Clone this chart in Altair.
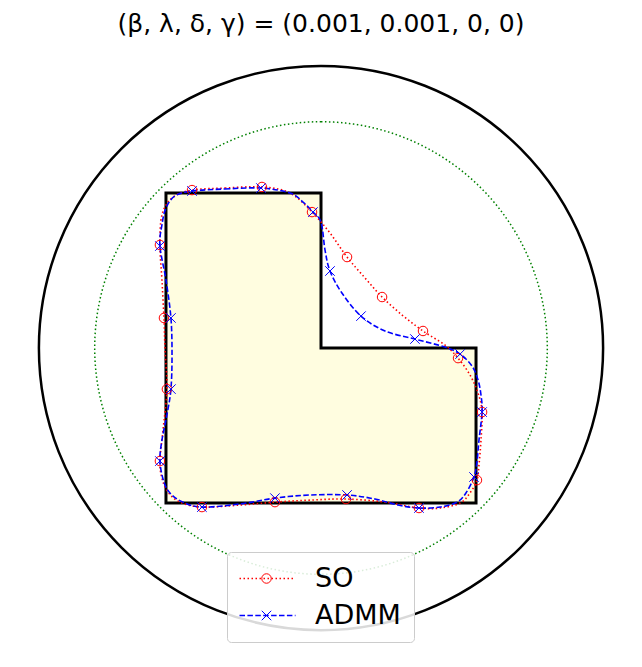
import altair as alt
import pandas as pd

# ---------------- data ----------------
title_text = "(β, λ, δ, γ) = (0.001, 0.001, 0, 0)"
series_names = ["SO", "ADMM"]
series_colors = ["red", "blue"]

# circles (center x, center y, radius)
outer_circle = {"cx": [0.0], "cy": [0.0], "r": [1.82]}
inner_circle = {"cx": [0.0], "cy": [0.0], "r": [1.46]}

# L-shaped domain
poly_x = [-1.0, 0.0, 0.0, 1.0, 1.0, -1.0]
poly_y = [1.0, 1.0, 0.0, 0.0, -1.0, -1.0]
fill_x = [-1.0, 0.0, 1.0]
fill_top = [1.0, 0.0, 0.0]
fill_bottom = [-1.0, -1.0, -1.0]

# SO curve (closed)
so_x = [-0.832, -0.619, -0.381, -0.200, -0.058, 0.058, 0.168, 0.284, 0.394, 0.523,
        0.658, 0.800, 0.884, 0.961, 1.013, 1.039, 1.032, 1.019, 1.006, 0.961,
        0.897, 0.768, 0.632, 0.413, 0.161, -0.071, -0.297, -0.523, -0.768, -0.910,
        -0.987, -1.026, -1.039, -1.019, -0.994, -1.006, -1.013, -1.026, -1.039, -1.026,
        -0.961]
so_y = [1.019, 1.032, 1.039, 1.000, 0.877, 0.742, 0.587, 0.452, 0.329, 0.213,
        0.110, 0.019, -0.065, -0.174, -0.290, -0.413, -0.594, -0.755, -0.852, -0.935,
        -1.000, -1.032, -1.032, -0.994, -0.974, -0.981, -0.994, -1.013, -1.026, -0.994,
        -0.929, -0.839, -0.729, -0.529, -0.265, -0.013, 0.194, 0.439, 0.665, 0.858,
        0.968]
so_marks = [0, 2, 4, 6, 8, 10, 12, 15, 18, 22, 24, 26, 28, 32, 34, 36, 38]

# ADMM curve (closed)
admm_x = [-0.832, -0.619, -0.387, -0.200, -0.116, -0.052, 0.000, 0.026, 0.058, 0.135,
          0.258, 0.413, 0.606, 0.800, 0.897, 0.974, 1.013, 1.032, 1.039, 1.019,
          1.006, 0.987, 0.935, 0.877, 0.768, 0.632, 0.497, 0.348, 0.168, -0.071,
          -0.297, -0.523, -0.768, -0.890, -0.968, -1.013, -1.039, -1.026, -0.994, -0.968,
          -0.961, -0.968, -1.000, -1.039, -1.026, -1.000, -0.942]
admm_y = [1.013, 1.026, 1.032, 1.000, 0.942, 0.877, 0.813, 0.632, 0.497, 0.355,
          0.206, 0.110, 0.058, 0.006, -0.039, -0.116, -0.206, -0.303, -0.413, -0.594,
          -0.735, -0.832, -0.935, -0.994, -1.026, -1.032, -1.013, -0.974, -0.948, -0.948,
          -0.968, -1.006, -1.026, -0.994, -0.942, -0.865, -0.729, -0.594, -0.432, -0.265,
          -0.045, 0.194, 0.439, 0.658, 0.794, 0.903, 0.981]
admm_marks = [0, 2, 5, 8, 10, 12, 14, 18, 21, 25, 28, 30, 32, 36, 39, 41, 43]

# ---------------- tables ----------------
curves = pd.concat([
    pd.DataFrame({"i": range(len(so_x)), "x": so_x, "y": so_y, "series": "SO"}),
    pd.DataFrame({"i": range(len(admm_x)), "x": admm_x, "y": admm_y, "series": "ADMM"}),
], ignore_index=True)

markers = pd.concat([
    pd.DataFrame({"x": [so_x[k] for k in so_marks], "y": [so_y[k] for k in so_marks], "method": "SO"}),
    pd.DataFrame({"x": [admm_x[k] for k in admm_marks], "y": [admm_y[k] for k in admm_marks], "method": "ADMM"}),
], ignore_index=True)

poly = pd.DataFrame({"i": range(len(poly_x)), "x": poly_x, "y": poly_y})
fill = pd.DataFrame({"x": fill_x, "top": fill_top, "bottom": fill_bottom})

xs = alt.Scale(domain=[-2.019, 2.019], nice=False, zero=False)
ys = alt.Scale(domain=[-2.006, 1.871], nice=False, zero=False)
rs = alt.Scale(type="linear", domain=[0, 1], range=[0, 155], zero=True)

def circle_layer(d, color, width, dash=None):
    kw = dict(filled=False, stroke=color, strokeWidth=width, theta=0, theta2=6.2832)
    if dash is not None:
        kw["strokeDash"] = dash
    return alt.Chart(pd.DataFrame(d)).mark_arc(**kw).encode(
        x=alt.X("cx:Q", scale=xs, axis=None),
        y=alt.Y("cy:Q", scale=ys, axis=None),
        radius=alt.Radius("r:Q", scale=rs),
    )

big = circle_layer(outer_circle, "black", 2.5)
green = circle_layer(inner_circle, "green", 1.5, [1.5, 2.5])

area = alt.Chart(fill).mark_area(interpolate="step-after", color="#fffde0").encode(
    x=alt.X("x:Q", scale=xs, axis=None),
    y=alt.Y("top:Q", scale=ys, axis=None),
    y2="bottom:Q",
)

outline = alt.Chart(poly).mark_line(interpolate="linear-closed", color="black", strokeWidth=3).encode(
    x=alt.X("x:Q", scale=xs, axis=None),
    y=alt.Y("y:Q", scale=ys, axis=None),
    order="i:Q",
)

LEG_X, LEG_Y = 219, 494

# line legend (domain from data, sorted descending -> SO, ADMM)
lines = alt.Chart(curves).mark_line(interpolate="cardinal-closed", strokeWidth=1.6).encode(
    x=alt.X("x:Q", scale=xs, axis=None),
    y=alt.Y("y:Q", scale=ys, axis=None),
    order="i:Q",
    color=alt.Color("series:N", sort="descending", scale=alt.Scale(range=series_colors),
                    legend=alt.Legend(title=None, orient="none", legendX=LEG_X, legendY=LEG_Y,
                                      symbolType="M-2.8,0H2.8", symbolSize=400, symbolStrokeWidth=1.5,
                                      labelFontSize=27, labelFont="DejaVu Sans", labelColor="black",
                                      padding=13, rowPadding=9, symbolOffset=14, labelOffset=34,
                                      fillColor="rgba(255,255,255,0.85)", strokeColor="#cccccc",
                                      cornerRadius=4)),
    strokeDash=alt.StrokeDash("series:N", sort="descending",
                              scale=alt.Scale(range=[[1.5, 2.5], [5.5, 2.4]])),
)

# marker legend (explicit domain), drawn over the line legend without labels
marker_legend = alt.Legend(title=None, orient="none", legendX=LEG_X, legendY=LEG_Y,
                           symbolSize=90, symbolStrokeWidth=1,
                           labelFontSize=27, labelFont="DejaVu Sans", labelOpacity=0,
                           padding=13, rowPadding=9, symbolOffset=13, labelOffset=34)
points = alt.Chart(markers).mark_point(filled=False, strokeWidth=1, size=90, opacity=1).encode(
    x=alt.X("x:Q", scale=xs, axis=None),
    y=alt.Y("y:Q", scale=ys, axis=None),
    stroke=alt.Stroke("method:N", scale=alt.Scale(domain=series_names, range=series_colors),
                      legend=marker_legend),
    shape=alt.Shape("method:N", scale=alt.Scale(domain=series_names,
                                                range=["circle", "M-1,-1L1,1M-1,1L1,-1"]),
                    legend=marker_legend),
)

chart = alt.layer(big, green, area, outline, lines, points).properties(
    width=626, height=601,
    padding={"left": 0, "top": 50, "right": 0, "bottom": 0},
    autosize=alt.AutoSizeParams(type="none"),
    title=alt.TitleParams(text=title_text, fontSize=25, font="DejaVu Sans", fontWeight="normal",
                          anchor="middle", color="black", offset=21),
).configure_view(stroke=None)

chart.save("out.html", embed_options={"renderer": "svg", "actions": False})
